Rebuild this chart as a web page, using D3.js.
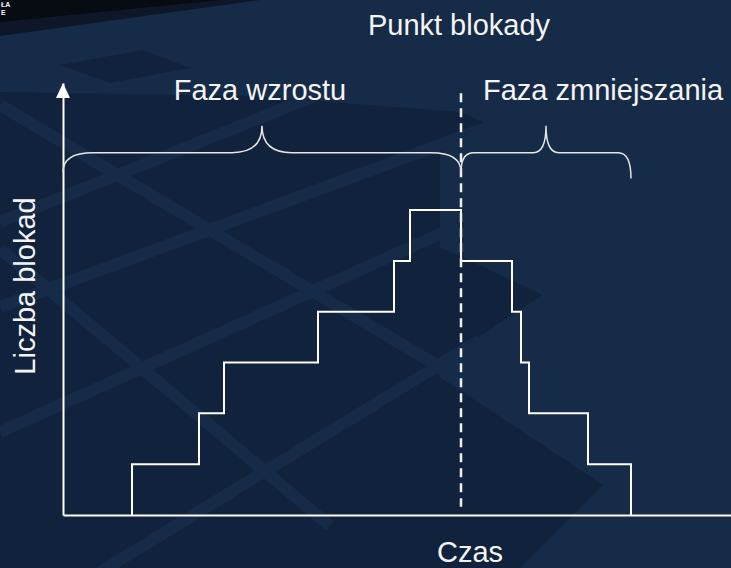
<!DOCTYPE html>
<meta charset="utf-8">
<style>
    body { margin: 0; background: #152b48; }
    svg text { fill: #f4f4f4; font-family: "Liberation Sans", Arial, sans-serif; font-size: 29px; }
</style>
<body>
<script src="https://cdn.jsdelivr.net/npm/d3@7"></script>
<script>
    // time of each lock / unlock event and number of locks after it
    var eventTimes = [69, 136, 161, 255, 331, 347, 398, 449, 458, 466, 525, 568];
    var lockCounts = [1, 2, 3, 4, 5, 6, 5, 4, 3, 2, 1, 0];
    var lockPoint = 398;

    // phases shown with braces: [start, end]
    var phaseNames = ["Faza wzrostu", "Faza zmniejszania"];
    var phaseSpans = [[0, 398], [398, 568]];

    var w = 731, h = 568;

    var svg = d3.select("body").append("svg")
        .attr("width", w)
        .attr("height", h);

    // --- background (dark tiles like the slide template) ---
    var bg = svg.append("g");
    var defs = svg.append("defs");
    var darkShape = [[0,92],[250,96],[460,112],[483,122],[440,153],[440,247],[543,295],[440,362],[440,377],[603,485],[520,568],[0,568]];
    defs.append("clipPath").attr("id", "tiles")
        .append("polygon").attr("points", darkShape.join(" "));
    bg.append("polygon").attr("points", darkShape.join(" ")).attr("fill", "#11233c");
    var stripes = [[0,222,480,30],[0,307,480,130],[0,432,480,216],[100,572,480,340],[0,105,480,391],[0,249,330,526]];
    bg.append("g").attr("clip-path", "url(#tiles)")
        .selectAll("line").data(stripes).enter().append("line")
        .attr("x1", function(d) {return d[0]}).attr("y1", function(d) {return d[1]})
        .attr("x2", function(d) {return d[2]}).attr("y2", function(d) {return d[3]})
        .attr("stroke", "#152b48").attr("stroke-width", 12);
    bg.append("polygon").attr("points", "60,65 143,50 190,68 110,83").attr("fill", "#11233c");
    // dark band top left
    bg.append("polygon").attr("points", "0,0 260,0 0,36").attr("fill", "#0d1727");
    bg.append("polygon").attr("points", "0,0 220,0 0,22").attr("fill", "#070b12");
    bg.append("text").text("ŁA").attr("x", 1).attr("y", 7)
        .style("font-size", "7px").style("font-weight", "bold");
    bg.append("text").text("E").attr("x", 1).attr("y", 15)
        .style("font-size", "7px").style("font-weight", "bold");

    // --- scales ---
    var x = d3.scaleLinear().domain([0, 668]).range([63, 731]);
    var y = d3.scaleLinear().domain([0, 8.5]).range([515, 83]);

    // axes without ticks, only the lines
    svg.append("g").attr("transform", "translate(0," + y(0) + ")")
        .call(d3.axisBottom(x).tickValues([]).tickSizeOuter(0))
        .select(".domain").attr("stroke", "white").attr("stroke-width", 2);
    svg.append("g").attr("transform", "translate(" + x(0) + ",0)")
        .call(d3.axisLeft(y).tickValues([]).tickSizeOuter(0))
        .select(".domain").attr("stroke", "white").attr("stroke-width", 2);
    svg.append("path")   // arrow head on y axis
        .attr("d", "M" + x(0) + "," + y(8.5) + "l-7,15h14z")
        .attr("fill", "white");

    // --- step line ---
    var points = [{t: eventTimes[0], n: 0}].concat(eventTimes.map(function(t, i) {return {t: t, n: lockCounts[i]}}));
    var line = d3.line()
        .x(function(d) {return x(d.t)})
        .y(function(d) {return y(d.n)})
        .curve(d3.curveStepAfter);
    svg.append("path").datum(points)
        .attr("d", line)
        .attr("fill", "none")
        .attr("stroke", "white")
        .attr("stroke-width", 2);

    // lock point dashed line
    svg.append("line")
        .attr("x1", x(lockPoint)).attr("x2", x(lockPoint))
        .attr("y1", y(8.3)).attr("y2", y(0.16))
        .attr("stroke", "#f0f0f0").attr("stroke-width", 2.5)
        .attr("stroke-dasharray", "9,6");

    // --- braces ---
    function brace(x0, x1, yEnd0, yEnd1, yBar, yTip) {
        var r = (x1 - x0) * 0.075, xm = (x0 + x1) / 2;
        return "M" + x0 + "," + yEnd0 + "Q" + x0 + "," + yBar + " " + (x0 + r) + "," + yBar +
            "L" + (xm - r) + "," + yBar + "Q" + xm + "," + yBar + " " + xm + "," + yTip +
            "Q" + xm + "," + yBar + " " + (xm + r) + "," + yBar +
            "L" + (x1 - r) + "," + yBar + "Q" + x1 + "," + yBar + " " + x1 + "," + yEnd1;
    }
    svg.selectAll(".brace").data(phaseSpans).enter().append("path")
        .attr("class", "brace")
        .attr("d", function(d, i) {
            return brace(x(d[0]), x(d[1]), y(6.75), y(i == 0 ? 6.75 : 6.62), y(7.13), y(7.66));
        })
        .attr("fill", "none").attr("stroke", "#e6e6e6").attr("stroke-width", 1.5);

    // --- labels ---
    svg.append("text").text(phaseNames[0])
        .attr("x", x((phaseSpans[0][0] + phaseSpans[0][1]) / 2) - 2).attr("y", 100)
        .attr("text-anchor", "middle");
    svg.append("text").text(phaseNames[1])
        .attr("x", 483).attr("y", 100);
    svg.append("text").text("Punkt blokady")
        .attr("x", x(lockPoint) - 2).attr("y", 35)
        .attr("text-anchor", "middle");
    svg.append("text").text("Czas")
        .attr("x", 470).attr("y", 562)
        .attr("text-anchor", "middle");
    svg.append("text").text("Liczba blokad")
        .attr("transform", "translate(35,286) rotate(-90)")
        .attr("text-anchor", "middle");
</script>
</body>
